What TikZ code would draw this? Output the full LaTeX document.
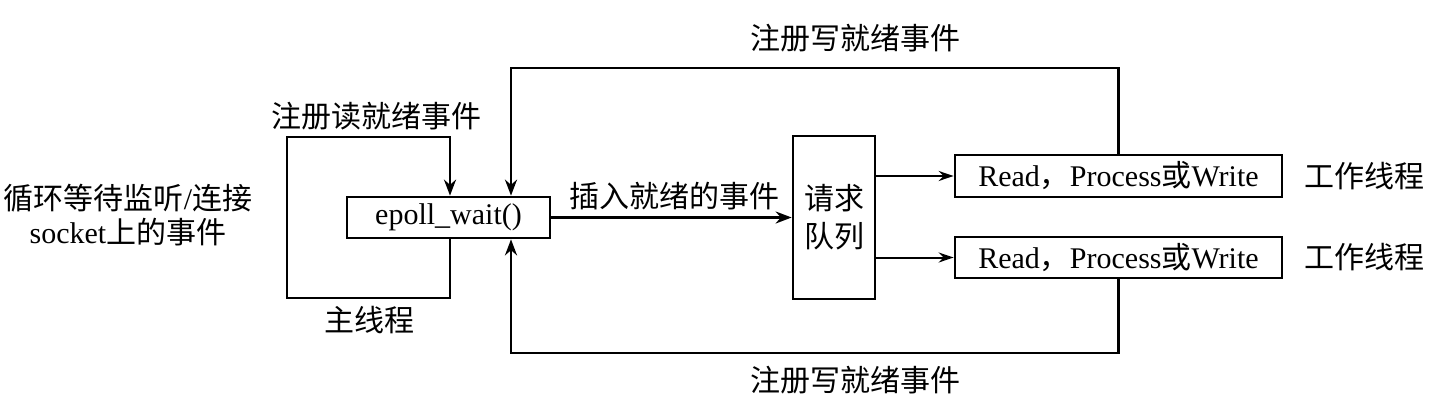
\documentclass[tikz,border=0pt]{standalone}
\usepackage{fontspec}
\setmainfont{Liberation Serif}
\newfontfamily\cjk{Noto Sans CJK SC}
\usetikzlibrary{arrows.meta}
\newcommand{\zh}[1]{{\cjk #1}}
\tikzset{
  every node/.style={font=\fontsize{30}{36}\selectfont, inner sep=0pt},
  boxnode/.style={draw, line width=2.7pt, align=center},
  lbl/.style={align=center},
  arr/.style={line width=2.7pt, -{Stealth[length=16pt,width=12pt]}},
  thinarr/.style={line width=2pt, -{Stealth[length=15pt,width=10pt]}}
}
\begin{document}
\begin{tikzpicture}[x=1pt,y=-1pt]
\useasboundingbox (0,0) rectangle (1433,415);
% boxes
\node[boxnode, minimum width=203pt, minimum height=41pt] (epoll) at (448.5,217.5) {epoll\_wait()};
\node[boxnode, minimum width=82pt, minimum height=163pt, font=\fontsize{30}{38}\selectfont\cjk] (queue) at (834,217.5) {请求\\队列};
\node[boxnode, minimum width=327pt, minimum height=42pt] (read1) at (1118.5,176) {Read\zh{，}Process\zh{或}Write};
\node[boxnode, minimum width=327pt, minimum height=41pt] (read2) at (1118.5,257.5) {Read\zh{，}Process\zh{或}Write};
% labels
\node[lbl, font=\fontsize{30}{34}\selectfont\rmfamily] (lefttxt) at (128,215) {\zh{循环等待监听}{\rmfamily /}\zh{连接}\\{\rmfamily socket}\zh{上的事件}};
\node[lbl, font=\fontsize{30}{36}\selectfont\cjk] (readreg) at (376,116) {注册读就绪事件};
\node[lbl, font=\fontsize{30}{36}\selectfont\cjk] (mainth) at (369,320) {主线程};
\node[lbl, font=\fontsize{30}{36}\selectfont\cjk] (insert) at (674,196) {插入就绪的事件};
\node[lbl, font=\fontsize{30}{36}\selectfont\cjk] (topw) at (855,38) {注册写就绪事件};
\node[lbl, font=\fontsize{30}{36}\selectfont\cjk] (botw) at (855,380) {注册写就绪事件};
\node[lbl, font=\fontsize{30}{36}\selectfont\cjk] (work1) at (1364,176) {工作线程};
\node[lbl, font=\fontsize{30}{36}\selectfont\cjk] (work2) at (1364,257) {工作线程};
% helper coordinates
\coordinate (lx) at (450,0);
\coordinate (loopBL) at (287,298);
\coordinate (loopTL) at (287,137);
\coordinate (ex) at (511,0);
\coordinate (topY) at (0,68);
\coordinate (botY) at (0,353);
% main loop
\draw[arr] (epoll.south -| lx) |- (loopBL) -- (loopTL) -| (epoll.north -| lx);
% write registration loops
\draw[arr] (read1.north) |- (topY -| ex) -- (epoll.north -| ex);
\draw[arr] (read2.south) |- (botY -| ex) -- (epoll.south -| ex);
% insert ready events
\draw[arr] (epoll.east) -- (queue.west);
% queue to workers
\draw[thinarr] (queue.east |- read1.west) -- (read1.west);
\draw[thinarr] (queue.east |- read2.west) -- (read2.west);
\end{tikzpicture}
\end{document}
